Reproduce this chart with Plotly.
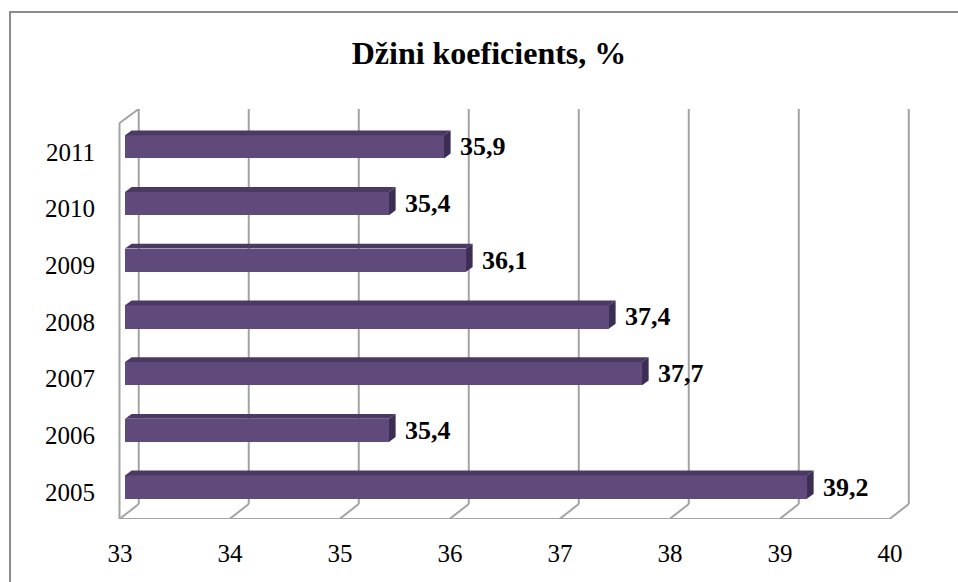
import plotly.graph_objects as go

# ---- data ----
years = ["2005", "2006", "2007", "2008", "2009", "2010", "2011"]
gini = [39.2, 35.4, 37.7, 37.4, 36.1, 35.4, 35.9]
labels = ["39,2", "35,4", "37,7", "37,4", "36,1", "35,4", "35,9"]
x_ticks = [33, 34, 35, 36, 37, 38, 39, 40]
title_text = "Džini koeficients, %"

# ---- style ----
W, H = 958, 582
L, R, T, B = 118, 48, 109, 63
X_MIN, X_MAX = 32.9364, 40.136
Y_MIN, Y_MAX = -0.564, 6.667
BASE = 33
BAR_W = 0.41
DX, DY = 0.06, 0.085          # depth of bars (x units, y units)
BACK_DX, FRONT_DX = 0.125, -0.05
BACK_BOTTOM, FRONT_FLOOR, LEFT_FRONT_TOP = -0.30, -0.564, 6.42
FRONT_C = "rgb(95,74,123)"
TOP_C = "rgb(74,57,99)"
SIDE_C = "rgb(60,45,84)"
GRID_C = "#A3A3A3"
FONT = "Liberation Serif, Times New Roman, serif"

idx = list(range(len(years)))
fig = go.Figure()
fig.add_trace(go.Bar(
    y=idx, x=[v - BASE for v in gini], base=BASE, orientation="h",
    width=BAR_W, marker=dict(color=FRONT_C, line=dict(width=0)),
    hoverinfo="skip", showlegend=False,
))

shapes = []
gl = dict(color=GRID_C, width=2)
# back wall gridlines and floor diagonals
for v in x_ticks:
    shapes.append(dict(type="line", xref="x", yref="y", layer="below",
                       x0=v + BACK_DX, x1=v + BACK_DX, y0=BACK_BOTTOM, y1=Y_MAX, line=gl))
    shapes.append(dict(type="line", xref="x", yref="y", layer="below",
                       x0=v + BACK_DX, x1=v + FRONT_DX, y0=BACK_BOTTOM, y1=FRONT_FLOOR, line=gl))
# front floor edge
shapes.append(dict(type="line", xref="x", yref="y", layer="below",
                   x0=x_ticks[0] + FRONT_DX, x1=x_ticks[-1] + FRONT_DX,
                   y0=FRONT_FLOOR, y1=FRONT_FLOOR, line=gl))
# left side wall
shapes.append(dict(type="line", xref="x", yref="y", layer="below",
                   x0=x_ticks[0] + FRONT_DX, x1=x_ticks[0] + FRONT_DX,
                   y0=FRONT_FLOOR, y1=LEFT_FRONT_TOP, line=gl))
shapes.append(dict(type="line", xref="x", yref="y", layer="below",
                   x0=x_ticks[0] + FRONT_DX, x1=x_ticks[0] + BACK_DX,
                   y0=LEFT_FRONT_TOP, y1=Y_MAX, line=gl))

# 3D faces of bars
hw = BAR_W / 2
for i, v in zip(idx, gini):
    top = (f"M {BASE},{i + hw} L {v},{i + hw} L {v + DX},{i + hw + DY} "
           f"L {BASE + DX},{i + hw + DY} Z")
    side = (f"M {v},{i - hw} L {v},{i + hw} L {v + DX},{i + hw + DY} "
            f"L {v + DX},{i - hw + DY} Z")
    shapes.append(dict(type="path", xref="x", yref="y", layer="above", path=top,
                       fillcolor=TOP_C, line=dict(width=0)))
    shapes.append(dict(type="path", xref="x", yref="y", layer="above", path=side,
                       fillcolor=SIDE_C, line=dict(width=0)))

# outer border (only top/left visible)
pw, ph = W - L - R, H - T - B
shapes.append(dict(type="rect", xref="paper", yref="paper",
                   x0=(10 - L) / pw, x1=(W + 20 - L) / pw,
                   y0=-(B + 20) / ph, y1=(H - B - 12) / ph,
                   line=dict(color="#8C8C8C", width=2), fillcolor="rgba(0,0,0,0)"))

annotations = []
for i, v, t in zip(idx, gini, labels):
    annotations.append(dict(x=v, y=i, xref="x", yref="y", text=t, showarrow=False,
                            xanchor="left", yanchor="middle", xshift=14,
                            font=dict(family=FONT, size=26, color="black", weight="bold")))

fig.update_layout(
    width=W, height=H,
    margin=dict(l=L, r=R, t=T, b=B, pad=0),
    paper_bgcolor="white", plot_bgcolor="white",
    bargap=0,
    title=dict(text=f"<b>{title_text}</b>", x=489 / W, xanchor="center",
               y=1 - 53 / H, yanchor="middle",
               font=dict(family=FONT, size=32, color="black")),
    xaxis=dict(range=[X_MIN, X_MAX], tickvals=x_ticks, ticktext=[str(v) for v in x_ticks],
               showgrid=False, zeroline=False, showline=False, ticks="",
               ticklabelshift=-5, ticklabelstandoff=17,
               tickfont=dict(family=FONT, size=25, color="black")),
    yaxis=dict(range=[Y_MIN, Y_MAX], tickvals=idx, ticktext=years,
               showgrid=False, zeroline=False, showline=False, ticks="",
               ticklabelshift=5, ticklabelstandoff=22,
               tickfont=dict(family=FONT, size=25, color="black")),
    shapes=shapes, annotations=annotations,
)

fig.write_html("out.html", config={"displayModeBar": False},
               post_script="document.body.style.margin='0';document.body.style.overflow='hidden';")
